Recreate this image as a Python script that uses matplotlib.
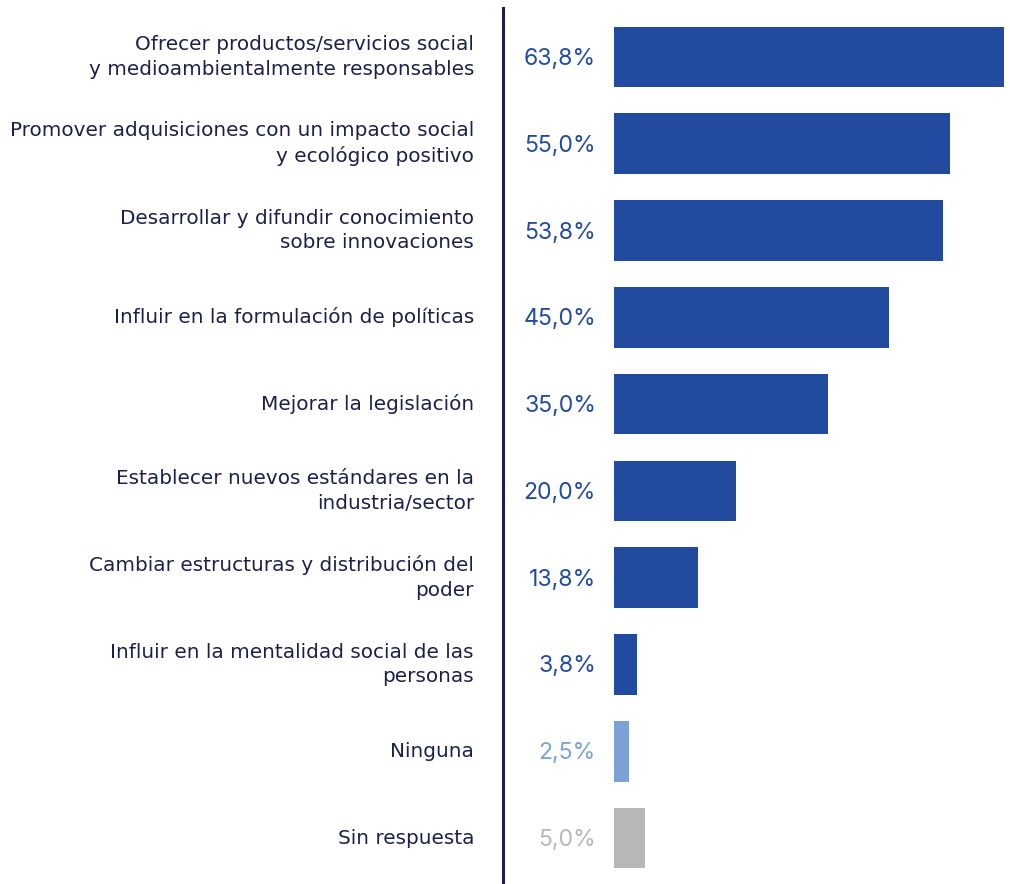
import matplotlib.pyplot as plt
from matplotlib.lines import Line2D

plt.rcParams['font.family'] = ['Inter', 'DejaVu Sans']

categorias = [
    'Ofrecer productos/servicios social\ny medioambientalmente responsables',
    'Promover adquisiciones con un impacto social\ny ecológico positivo',
    'Desarrollar y difundir conocimiento\nsobre innovaciones',
    'Influir en la formulación de políticas',
    'Mejorar la legislación',
    'Establecer nuevos estándares en la\nindustria/sector',
    'Cambiar estructuras y distribución del\npoder',
    'Influir en la mentalidad social de las\npersonas',
    'Ninguna',
    'Sin respuesta',
]
valores = [63.8, 55.0, 53.8, 45.0, 35.0, 20.0, 13.8, 3.8, 2.5, 5.0]
colores = ['#224b9f'] * 8 + ['#7ba2d7', '#b7b7b7']

texto = '#1b1f4b'

fig = plt.figure(figsize=(10.1, 8.84), dpi=100)
ax = fig.add_axes([614 / 1010, 0, 390 / 1010, 1])

pos = list(range(len(valores)))
ax.barh(pos, valores, height=0.70, color=colores)
ax.set_xlim(0, 63.8)
ax.set_ylim(9.53, -0.657)
ax.axis('off')

for y, cat, v, c in zip(pos, categorias, valores, colores):
    ax.annotate(cat, xy=(0, y), xytext=(-140, 0), textcoords='offset pixels',
                ha='right', va='center', fontsize=14.4, color=texto,
                family='DejaVu Sans', linespacing=1.38)
    ax.annotate(f'{v:.1f}%'.replace('.', ','), xy=(0, y), xytext=(-18, -2),
                textcoords='offset pixels', ha='right', va='center',
                fontsize=16.6, color=c)

# línea vertical separadora
fig.add_artist(Line2D([503 / 1010, 503 / 1010], [0, 876 / 884],
                      color='#1a1f4f', linewidth=2.2))

fig.savefig('out.png', dpi=100, facecolor='white')
